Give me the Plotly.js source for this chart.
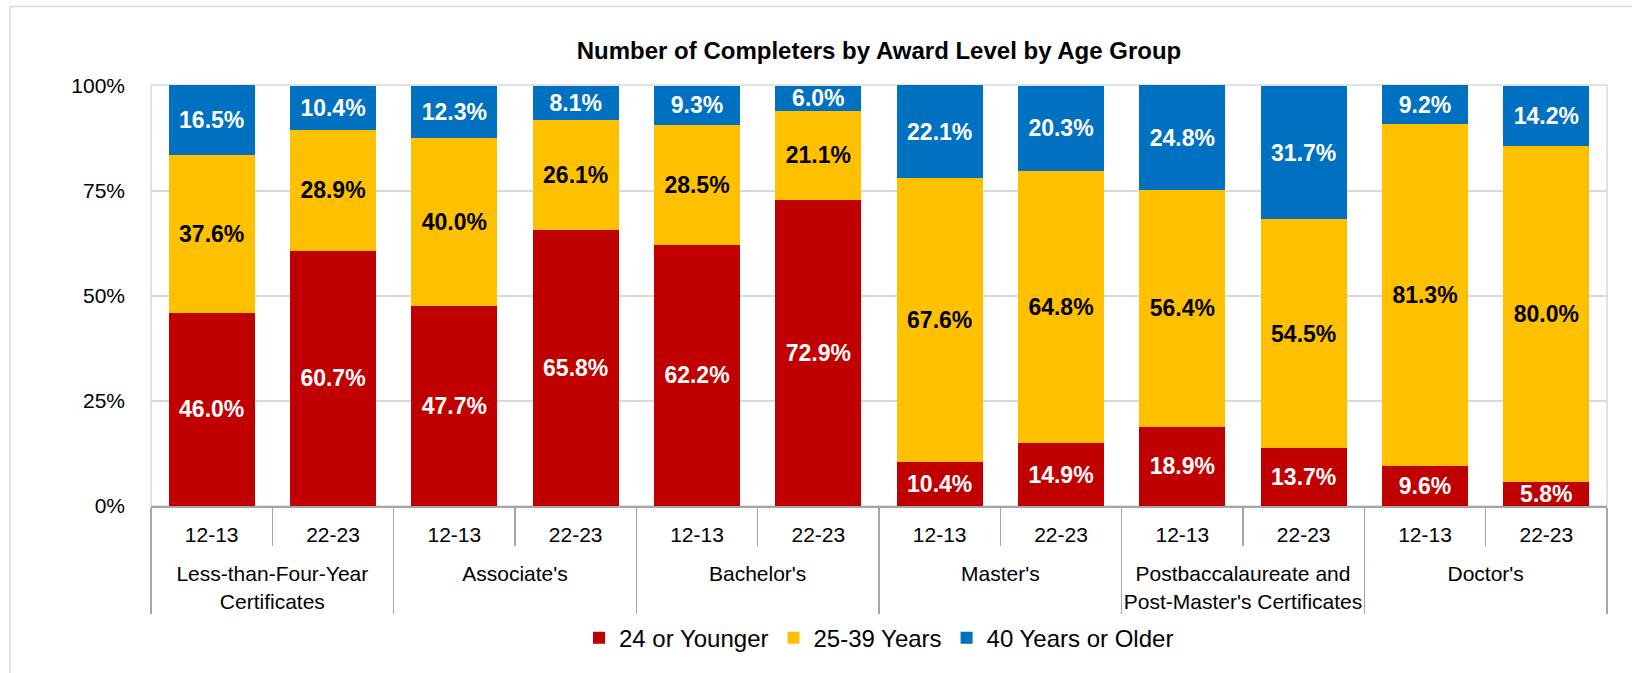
<!DOCTYPE html>
<html>
<head>
<meta charset="utf-8">
<script src="https://cdn.plot.ly/plotly-3.0.1.min.js"></script>
<style>
  html, body { margin: 0; padding: 0; background: #ffffff; }
  #chart { width: 1632px; height: 673px; }
</style>
</head>
<body>
<div id="chart"></div>
<script>
// ---- Data ----
const awardLevels = [
  "Less-than-Four-Year<br>Certificates",
  "Associate's",
  "Bachelor's",
  "Master's",
  "Postbaccalaureate and<br>Post-Master's Certificates",
  "Doctor's"
];
const years = ["12-13", "22-23"];
const seriesNames = ["24 or Younger", "25-39 Years", "40 Years or Older"];

const age24OrYounger = [46.0, 60.7, 47.7, 65.8, 62.2, 72.9, 10.4, 14.9, 18.9, 13.7, 9.6, 5.8];
const age25to39      = [37.6, 28.9, 40.0, 26.1, 28.5, 21.1, 67.6, 64.8, 56.4, 54.5, 81.3, 80.0];
const age40OrOlder   = [16.5, 10.4, 12.3, 8.1, 9.3, 6.0, 22.1, 20.3, 24.8, 31.7, 9.2, 14.2];

const yTickVals = [0, 25, 50, 75, 100];
const yTickText = ["0%", "25%", "50%", "75%", "100%"];

// ---- Build multicategory x ----
// (a tiny invisible second line under each year label adds spacing before the award-level row)
const spacer = "<br><span style='font-size:2px'>\u00A0</span>";
const xGroup = [], xYear = [];
awardLevels.forEach(a => years.forEach(y => { xGroup.push(a); xYear.push(y + spacer); }));
const xCats = [xGroup, xYear];

const FONT = "Liberation Sans, Arial, sans-serif";
const colors = ["#C00000", "#FFC000", "#0070C0"];
const textColors = ["#FFFFFF", "#000000", "#FFFFFF"];
const values = [age24OrYounger, age25to39, age40OrOlder];

const traces = values.map((v, i) => ({
  type: "bar",
  name: seriesNames[i],
  x: xCats,
  y: v,
  marker: { color: colors[i], line: { width: 0 } },
  texttemplate: "%{y:.1f}%",
  textposition: "inside",
  insidetextanchor: "middle",
  textangle: 0,
  constraintext: "none",
  cliponaxis: false,
  insidetextfont: { family: FONT, size: 23, color: textColors[i], weight: "bold" },
  hoverinfo: "skip"
}));

const plotW = 1456, plotH = 424, mL = 151, mT = 85;
const yMax = 100.2;

const layout = {
  width: 1632,
  height: 673,
  margin: { l: mL, r: 25, t: mT, b: 164, pad: 0 },
  paper_bgcolor: "#FFFFFF",
  plot_bgcolor: "rgba(0,0,0,0)",
  barmode: "stack",
  bargap: 0.29,
  font: { family: FONT, size: 21, color: "#000000" },
  title: {
    text: "Number of Completers by Award Level by Age Group",
    font: { family: FONT, size: 24, color: "#000000", weight: "bold" },
    x: 0.5, xref: "paper", xanchor: "center",
    y: 1 - 51 / 673, yref: "container", yanchor: "middle"
  },
  xaxis: {
    type: "multicategory",
    showline: true,
    linecolor: "#A6A6A6",
    linewidth: 2,
    ticks: "outside",
    tickson: "boundaries",
    ticklen: 38,
    tickwidth: 1.5,
    tickcolor: "#A6A6A6",
    ticklabelstandoff: 9,
    showdividers: true,
    dividercolor: "#A6A6A6",
    dividerwidth: 1.5,
    tickfont: { family: FONT, size: 21, color: "#000000" },
    showgrid: false,
    zeroline: false,
    fixedrange: true
  },
  yaxis: {
    range: [0, yMax],
    tickvals: yTickVals,
    ticktext: yTickText,
    tickfont: { family: FONT, size: 21, color: "#000000" },
    ticks: "",
    ticklabelstandoff: 25,
    showgrid: true,
    gridcolor: "#D9D9D9",
    gridwidth: 1.5,
    showline: false,
    zeroline: false,
    fixedrange: true
  },
  legend: {
    orientation: "h",
    x: 0.5, xanchor: "center",
    y: (509 - 642) / plotH, yanchor: "middle",
    traceorder: "normal",
    font: { family: FONT, size: 24, color: "#000000" },
    bgcolor: "rgba(0,0,0,0)"
  },
  shapes: [
    { type: "rect", xref: "paper", yref: "paper", x0: 0, x1: 1, y0: 0, y1: 1,
      line: { color: "#D9D9D9", width: 1.5 }, layer: "below" },
    { type: "rect", xref: "paper", yref: "paper",
      x0: (10 - mL) / plotW, x1: (1700 - mL) / plotW,
      y0: (509 - 720) / plotH, y1: (509 - 6) / plotH,
      line: { color: "#D9D9D9", width: 1.5 }, layer: "below" }
  ]
};

Plotly.newPlot("chart", traces, layout, { displayModeBar: false, staticPlot: true });
</script>
</body>
</html>
